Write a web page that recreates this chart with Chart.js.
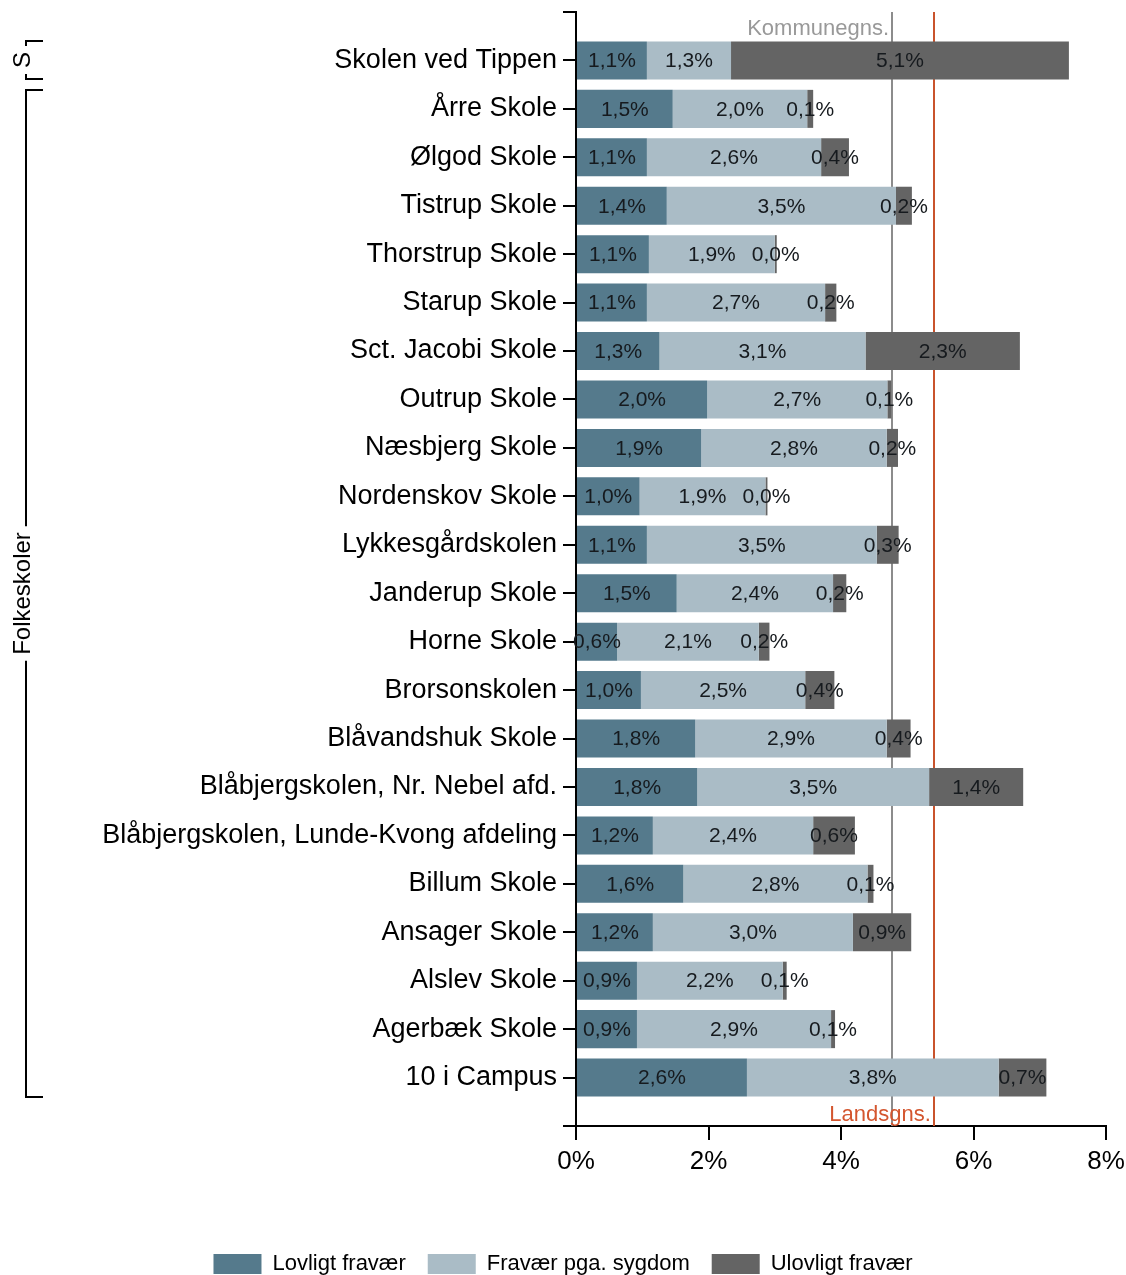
<!DOCTYPE html>
<html><head><meta charset="utf-8">
<script src="https://cdn.jsdelivr.net/npm/chart.js@4.4.1/dist/chart.umd.min.js"></script>
<style>html,body{margin:0;padding:0;background:#fff}#wrap{width:1126px;height:1275px;position:relative}</style>
</head><body><div id="wrap"><canvas id="c"></canvas></div>
<script>
const schools = ['Skolen ved Tippen','Årre Skole','Ølgod Skole','Tistrup Skole','Thorstrup Skole','Starup Skole','Sct. Jacobi Skole','Outrup Skole','Næsbjerg Skole','Nordenskov Skole','Lykkesgårdskolen','Janderup Skole','Horne Skole','Brorsonskolen','Blåvandshuk Skole','Blåbjergskolen, Nr. Nebel afd.','Blåbjergskolen, Lunde-Kvong afdeling','Billum Skole','Ansager Skole','Alslev Skole','Agerbæk Skole','10 i Campus'];
const lovligt  = [1.07,1.46,1.07,1.37,1.10,1.07,1.26,1.98,1.89,0.96,1.07,1.52,0.62,0.98,1.80,1.83,1.16,1.62,1.16,0.92,0.92,2.58];
const sygdom   = [1.27,2.03,2.63,3.46,1.90,2.69,3.11,2.72,2.80,1.90,3.47,2.36,2.14,2.48,2.89,3.50,2.42,2.78,3.02,2.20,2.93,3.80];
const ulovligt = [5.10,0.09,0.42,0.24,0.03,0.17,2.33,0.06,0.17,0.03,0.33,0.20,0.16,0.44,0.36,1.42,0.63,0.09,0.88,0.06,0.06,0.72];
const seriesNames = ['Lovligt fravær','Fravær pga. sygdom','Ulovligt fravær'];
const seriesColors = ['#557a8c','#aabcc6','#646464'];
const xTickValues = [0,2,4,6,8];
const kommuneAvg = 4.77;
const landsAvg = 5.40;
const refNames = ['Kommunegns.','Landsgns.'];
const groups = [{label:'S', from:0, to:0},{label:'Folkeskoler', from:1, to:21}];

const FONT = "'Liberation Sans', Arial, sans-serif";
const fmt = v => v.toFixed(1).replace('.', ',') + '%';
const toPts = arr => arr.map((v,i)=>({x:v, y:i}));

const refLines = {
  id:'refLines',
  beforeDatasetsDraw(chart){
    const {ctx, chartArea:a, scales:{x}} = chart;
    ctx.save();
    [[kommuneAvg,'#8c8c8c'],[landsAvg,'#c9532c']].forEach(([v,c])=>{
      const px = Math.round(x.getPixelForValue(v));
      ctx.strokeStyle=c; ctx.lineWidth=2;
      ctx.beginPath(); ctx.moveTo(px,a.top); ctx.lineTo(px,a.bottom); ctx.stroke();
    });
    ctx.restore();
  },
  afterDatasetsDraw(chart){
    const {ctx, chartArea:a, scales:{x}} = chart;
    ctx.save();
    ctx.font = "22px " + FONT;
    ctx.textAlign='right'; ctx.textBaseline='alphabetic';
    ctx.fillStyle='#999999';
    ctx.fillText(refNames[0], x.getPixelForValue(kommuneAvg)-3, a.top+23);
    ctx.fillStyle='#d4562f';
    ctx.fillText(refNames[1], x.getPixelForValue(landsAvg)-3, a.bottom-5);
    ctx.restore();
  }
};

const valueLabels = {
  id:'valueLabels',
  afterDatasetsDraw(chart){
    const {ctx} = chart;
    ctx.save();
    ctx.font = "21px " + FONT;
    ctx.fillStyle = '#161a1e';
    ctx.textAlign='center'; ctx.textBaseline='middle';
    chart.data.datasets.forEach((ds,di)=>{
      const meta = chart.getDatasetMeta(di);
      meta.data.forEach((bar,j)=>{
        const p = bar.getProps(['x','base','y'], true);
        ctx.fillText(fmt(ds.data[j].x), (p.x+p.base)/2, p.y+1);
      });
    });
    ctx.restore();
  }
};

const groupBrackets = {
  id:'groupBrackets',
  afterDraw(chart){
    const {ctx, scales:{y}} = chart;
    const meta = chart.getDatasetMeta(0);
    ctx.save();
    ctx.strokeStyle='#000'; ctx.lineWidth=2; ctx.fillStyle='#000';
    ctx.font = "24px " + FONT;
    const lx = 26, rx = 43;
    groups.forEach(g=>{
      const h = meta.data[g.from].height/2;
      const top = Math.round(y.getPixelForValue(g.from) - h);
      const bot = Math.round(y.getPixelForValue(g.to) + h);
      const mid = (top+bot)/2;
      const tw = ctx.measureText(g.label).width;
      const gapA = mid - tw/2 - 6, gapB = mid + tw/2 + 6;
      ctx.beginPath();
      ctx.moveTo(rx, top); ctx.lineTo(lx, top);
      if (gapA > top) { ctx.lineTo(lx, gapA); }
      ctx.moveTo(lx, Math.max(gapB, top)); ctx.lineTo(lx, bot); ctx.lineTo(rx, bot);
      ctx.stroke();
      ctx.save();
      ctx.translate(lx-3, mid);
      ctx.rotate(-Math.PI/2);
      ctx.textAlign='center'; ctx.textBaseline='middle';
      ctx.fillText(g.label, 0, 0);
      ctx.restore();
    });
    ctx.restore();
  }
};

new Chart(document.getElementById('c'), {
  type:'bar',
  data:{
    datasets:[
      {label:seriesNames[0], data:toPts(lovligt), backgroundColor:seriesColors[0], stack:'s'},
      {label:seriesNames[1], data:toPts(sygdom), backgroundColor:seriesColors[1], stack:'s'},
      {label:seriesNames[2], data:toPts(ulovligt), backgroundColor:seriesColors[2], stack:'s'}
    ]
  },
  options:{
    indexAxis:'y',
    responsive:true, maintainAspectRatio:false, animation:false,
    devicePixelRatio:1,
    layout:{padding:{left:0,right:0,top:12,bottom:-10}},
    datasets:{bar:{categoryPercentage:1, barPercentage:0.785}},
    plugins:{
      tooltip:{enabled:false},
      legend:{
        position:'bottom',
        labels:{boxWidth:48, boxHeight:20, padding:22, color:'#000', font:{family:FONT, size:22}}
      }
    },
    scales:{
      x:{
        type:'linear', min:0, max:8, stacked:true,
        afterBuildTicks: s => { s.ticks = xTickValues.map(v=>({value:v})); },
        ticks:{callback:v=>v+'%', color:'#000', font:{family:FONT, size:26}, padding:6, maxRotation:0},
        grid:{drawOnChartArea:false, drawTicks:true, tickLength:14, color:'#000', lineWidth:2},
        border:{color:'#000', width:2},
        afterFit: s => { s.height = 105; s.paddingLeft = 0; s.paddingRight = 20; }
      },
      y:{
        type:'linear', reverse:true, min:-1, max:22, offset:false,
        ticks:{stepSize:1, autoSkip:false, callback:v=>schools[v] ?? '', color:'#000', font:{family:FONT, size:27}, padding:6},
        grid:{offset:false, drawOnChartArea:false, drawTicks:true, tickLength:13, color:'#000', lineWidth:2},
        border:{color:'#000', width:2},
        afterFit: s => { s.width = 576; s.paddingTop = 0; s.paddingBottom = 0; }
      }
    }
  },
  plugins:[refLines, valueLabels, groupBrackets]
});
</script>
</body></html>
